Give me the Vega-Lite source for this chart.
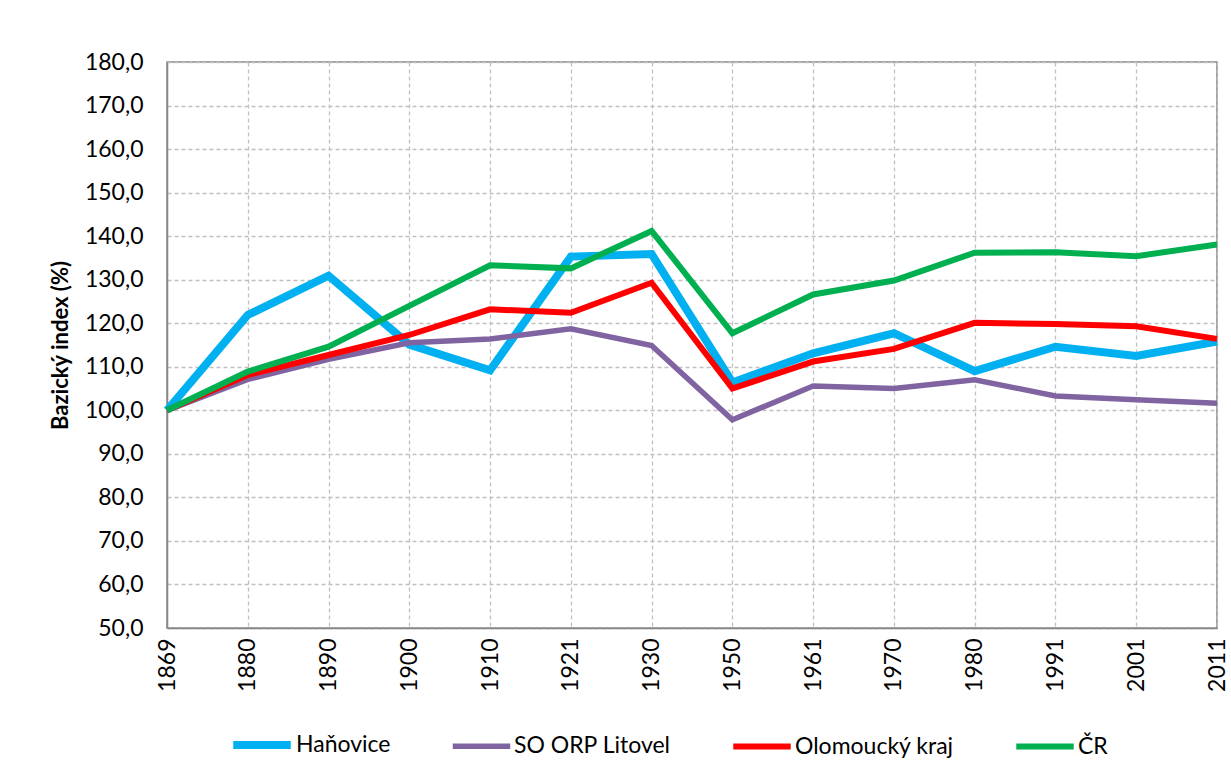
{
  "$schema": "https://vega.github.io/schema/vega-lite/v6.json",
  "width": 1050,
  "height": 566,
  "autosize": "none",
  "padding": {"left": 167, "top": 62, "right": 14, "bottom": 155},
  "background": "white",
  "datasets": {
    "d": [
      {"year": "1869", "series": "Haňovice", "value": 100.0},
      {"year": "1880", "series": "Haňovice", "value": 121.9},
      {"year": "1890", "series": "Haňovice", "value": 130.9},
      {"year": "1900", "series": "Haňovice", "value": 115.1},
      {"year": "1910", "series": "Haňovice", "value": 109.2},
      {"year": "1921", "series": "Haňovice", "value": 135.3},
      {"year": "1930", "series": "Haňovice", "value": 135.9},
      {"year": "1950", "series": "Haňovice", "value": 106.4},
      {"year": "1961", "series": "Haňovice", "value": 113.1},
      {"year": "1970", "series": "Haňovice", "value": 117.7},
      {"year": "1980", "series": "Haňovice", "value": 109.0},
      {"year": "1991", "series": "Haňovice", "value": 114.6},
      {"year": "2001", "series": "Haňovice", "value": 112.5},
      {"year": "2011", "series": "Haňovice", "value": 115.8},
      {"year": "1869", "series": "SO ORP Litovel", "value": 100.0},
      {"year": "1880", "series": "SO ORP Litovel", "value": 107.1},
      {"year": "1890", "series": "SO ORP Litovel", "value": 111.7},
      {"year": "1900", "series": "SO ORP Litovel", "value": 115.5},
      {"year": "1910", "series": "SO ORP Litovel", "value": 116.4},
      {"year": "1921", "series": "SO ORP Litovel", "value": 118.7},
      {"year": "1930", "series": "SO ORP Litovel", "value": 114.9},
      {"year": "1950", "series": "SO ORP Litovel", "value": 97.8},
      {"year": "1961", "series": "SO ORP Litovel", "value": 105.6},
      {"year": "1970", "series": "SO ORP Litovel", "value": 105.0},
      {"year": "1980", "series": "SO ORP Litovel", "value": 107.0},
      {"year": "1991", "series": "SO ORP Litovel", "value": 103.3},
      {"year": "2001", "series": "SO ORP Litovel", "value": 102.4},
      {"year": "2011", "series": "SO ORP Litovel", "value": 101.6},
      {"year": "1869", "series": "Olomoucký kraj", "value": 100.0},
      {"year": "1880", "series": "Olomoucký kraj", "value": 108.1},
      {"year": "1890", "series": "Olomoucký kraj", "value": 112.7},
      {"year": "1900", "series": "Olomoucký kraj", "value": 117.3},
      {"year": "1910", "series": "Olomoucký kraj", "value": 123.2},
      {"year": "1921", "series": "Olomoucký kraj", "value": 122.4},
      {"year": "1930", "series": "Olomoucký kraj", "value": 129.3},
      {"year": "1950", "series": "Olomoucký kraj", "value": 105.0},
      {"year": "1961", "series": "Olomoucký kraj", "value": 111.2},
      {"year": "1970", "series": "Olomoucký kraj", "value": 114.1},
      {"year": "1980", "series": "Olomoucký kraj", "value": 120.1},
      {"year": "1991", "series": "Olomoucký kraj", "value": 119.8},
      {"year": "2001", "series": "Olomoucký kraj", "value": 119.3},
      {"year": "2011", "series": "Olomoucký kraj", "value": 116.4},
      {"year": "1869", "series": "ČR", "value": 100.0},
      {"year": "1880", "series": "ČR", "value": 108.9},
      {"year": "1890", "series": "ČR", "value": 114.6},
      {"year": "1900", "series": "ČR", "value": 124.0},
      {"year": "1910", "series": "ČR", "value": 133.3},
      {"year": "1921", "series": "ČR", "value": 132.6},
      {"year": "1930", "series": "ČR", "value": 141.2},
      {"year": "1950", "series": "ČR", "value": 117.7},
      {"year": "1961", "series": "ČR", "value": 126.6},
      {"year": "1970", "series": "ČR", "value": 129.8},
      {"year": "1980", "series": "ČR", "value": 136.2},
      {"year": "1991", "series": "ČR", "value": 136.3},
      {"year": "2001", "series": "ČR", "value": 135.4},
      {"year": "2011", "series": "ČR", "value": 138.1}
    ]
  },
  "data": {"name": "d"},
  "mark": {"type": "line", "strokeCap": "butt", "strokeJoin": "miter"},
  "encoding": {
    "x": {
      "field": "year",
      "type": "ordinal",
      "sort": null,
      "scale": {"type": "point", "padding": 0},
      "axis": {
        "title": null,
        "labelAngle": 270,
        "labelAlign": "right",
        "labelBaseline": "middle",
        "labelPadding": 10,
        "labelFont": "Lato",
        "labelFontSize": 23,
        "labelColor": "#000000",
        "ticks": false,
        "grid": true,
        "gridColor": "#c0c0c0",
        "gridDash": [4, 3],
        "gridWidth": 1.3,
        "domainColor": "#888888",
        "domainWidth": 1.5
      }
    },
    "y": {
      "field": "value",
      "type": "quantitative",
      "scale": {"domain": [50, 180], "nice": false, "zero": false},
      "axis": {
        "title": "Bazický index (%)",
        "titleFont": "Lato",
        "titleFontSize": 22,
        "titleFontWeight": "bold",
        "titleColor": "#000000",
        "titlePadding": 12,
        "values": [50, 60, 70, 80, 90, 100, 110, 120, 130, 140, 150, 160, 170, 180],
        "labelExpr": "replace(format(datum.value, '.1f'), '.', ',')",
        "labelFont": "Lato",
        "labelFontSize": 23,
        "labelColor": "#000000",
        "labelPadding": 24,
        "ticks": false,
        "grid": true,
        "gridColor": "#c0c0c0",
        "gridDash": [4, 3],
        "gridWidth": 1.3,
        "domainColor": "#888888",
        "domainWidth": 1.5
      }
    },
    "color": {
      "field": "series",
      "type": "nominal",
      "sort": ["Haňovice", "SO ORP Litovel", "Olomoucký kraj", "ČR"],
      "scale": {
        "domain": ["Haňovice", "SO ORP Litovel", "Olomoucký kraj", "ČR"],
        "range": ["#00B0F0", "#8064A2", "#FF0000", "#00B050"]
      },
      "legend": {
        "title": null,
        "orient": "none",
        "legendX": 62,
        "legendY": 650,
        "direction": "horizontal",
        "symbolType": "stroke",
        "symbolSize": 3300,
        "symbolStrokeWidth": 6,
        "labelFont": "Lato",
        "labelFontSize": 23,
        "labelColor": "#000000",
        "labelOffset": 1,
        "columnPadding": 50
      }
    },
    "strokeWidth": {
      "field": "series",
      "type": "nominal",
      "scale": {
        "type": "ordinal",
        "domain": ["Haňovice", "SO ORP Litovel", "Olomoucký kraj", "ČR"],
        "range": [8, 5.5, 6, 6]
      },
      "legend": null
    },
    "order": {"field": "year"}
  },
  "config": {
    "view": {"stroke": "#888888", "strokeWidth": 1.5}
  }
}
